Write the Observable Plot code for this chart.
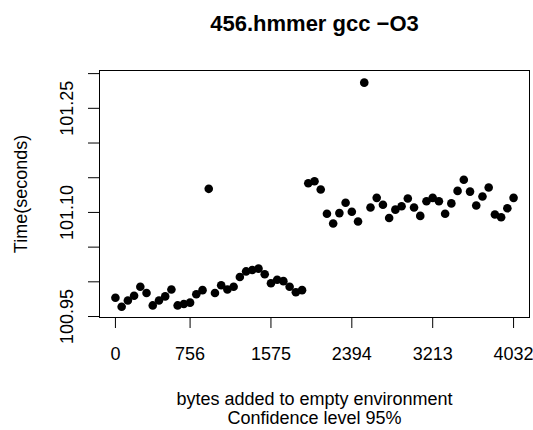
<!DOCTYPE html>
<html>
<head>
<meta charset="utf-8">
<script src="https://cdn.jsdelivr.net/npm/d3@7"></script>
<script src="https://cdn.jsdelivr.net/npm/@observablehq/plot@0.6"></script>
<style>
  html, body { margin: 0; padding: 0; background: #fff; }
  #chart svg { display: block; }
</style>
</head>
<body>
<div id="chart"></div>
<script>
const title = "456.hmmer gcc \u2212O3";
const xLabel = ["bytes added to empty environment", "Confidence level 95%"];
const yLabel = "Time(seconds)";
const step = 63;
const times = [
  100.977, 100.964, 100.973, 100.980, 100.993, 100.984, 100.966, 100.973, 100.979, 100.989,
  100.966, 100.968, 100.970, 100.982, 100.988, 101.134, 100.984, 100.995, 100.989, 100.993,
  101.007, 101.015, 101.017, 101.019, 101.011, 100.998, 101.003, 101.001, 100.993, 100.985,
  100.988, 101.142, 101.145, 101.133, 101.098, 101.084, 101.099, 101.114, 101.101, 101.087,
  101.287, 101.107, 101.121, 101.111, 101.092, 101.104, 101.109, 101.120, 101.107, 101.095,
  101.116, 101.121, 101.116, 101.098, 101.113, 101.131, 101.147, 101.130, 101.110, 101.123,
  101.136, 101.097, 101.093, 101.106, 101.121
];
const bytes = times.map((_, i) => i * step);
const xTicks = [0, 756, 1575, 2394, 3213, 4032];
const yTicks = [100.95, 101.00, 101.05, 101.10, 101.15, 101.20, 101.25, 101.30];
const yTickLabels = [100.95, 101.10, 101.25];

const data = times.map((t, i) => ({bytes: bytes[i], time: t}));

const font = "'Liberation Sans', Arial, Helvetica, sans-serif";
const fs = 18;

const plot = Plot.plot({
  width: 533,
  height: 430,
  marginLeft: 99,
  marginRight: 4,
  marginTop: 70,
  marginBottom: 113,
  style: {fontFamily: font, fontSize: fs + "px", color: "#000", background: "#fff"},
  x: {domain: [-161.28, 4193.28]},
  y: {domain: [100.9486, 101.3045]},
  marks: [
    Plot.frame({stroke: "#000", strokeWidth: 1}),
    Plot.axisX({ticks: xTicks, tickSize: 11, tickPadding: 19, tickFormat: d => String(d), fontSize: fs, label: null, stroke: "#000", strokeOpacity: 1}),
    Plot.axisY({ticks: yTicks, tickSize: 11, tickFormat: () => "", label: null, stroke: "#000", strokeOpacity: 1}),
    Plot.text(yTickLabels, {y: d => d, text: d => d.toFixed(2), frameAnchor: "left", dx: -27, rotate: -90, textAnchor: "middle", lineAnchor: "bottom", fontSize: fs, fill: "#000"}),
    Plot.dot(data, {x: "bytes", y: "time", r: 4.3, fill: "#000", stroke: null}),
    Plot.text([title], {frameAnchor: "top", dy: -40, lineAnchor: "bottom", text: d => d, fontSize: 22, fontWeight: "bold", fill: "#000"}),
    Plot.text([xLabel[0]], {frameAnchor: "bottom", dy: 87, lineAnchor: "bottom", text: d => d, fontSize: fs, fill: "#000"}),
    Plot.text([xLabel[1]], {frameAnchor: "bottom", dy: 106, lineAnchor: "bottom", text: d => d, fontSize: fs, fill: "#000"}),
    Plot.text([yLabel], {frameAnchor: "left", dx: -73, rotate: -90, textAnchor: "middle", lineAnchor: "bottom", text: d => d, fontSize: fs, fill: "#000"})
  ]
});
document.getElementById("chart").appendChild(plot);
</script>
</body>
</html>
